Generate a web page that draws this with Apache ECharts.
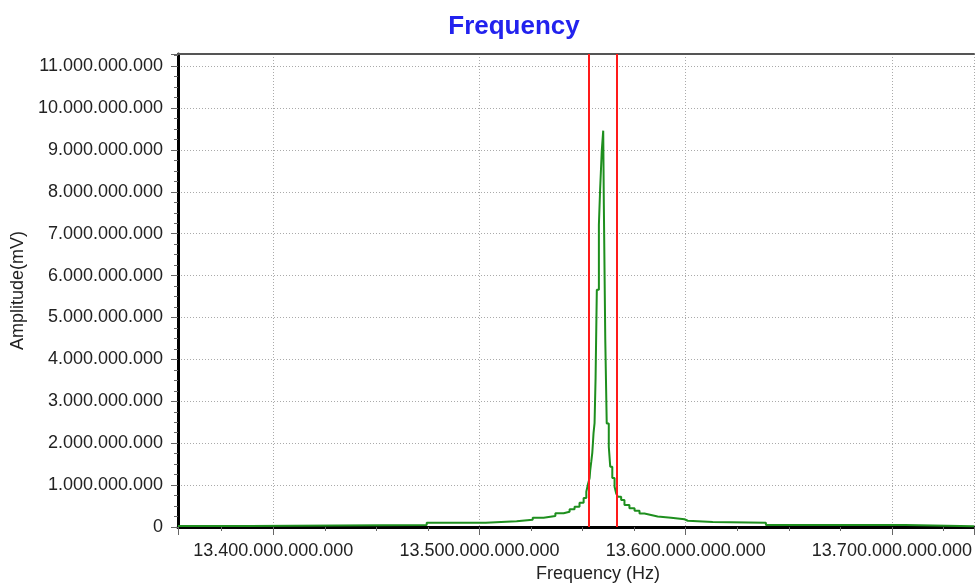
<!DOCTYPE html>
<html>
<head>
<meta charset="utf-8">
<script src="https://cdn.jsdelivr.net/npm/echarts@6/dist/echarts.min.js"></script>
<style>
    html, body { margin: 0; padding: 0; background: #fff; }
    #chart { width: 975px; height: 583px; }
</style>
</head>
<body>
<div id="chart"></div>
<script>

// 頻譜數據 (Hz / mV), 階梯線, 每點為平台起點

const frequencies = [
    13353.8e9, 13388.7e9, 13474.4e9, 13503.0e9, 13518.0e9, 13525.8e9, 13531.1e9, 13536.8e9,
    13540.8e9, 13543.7e9, 13546.1e9, 13548.5e9, 13550.5e9, 13551.8e9, 13552.5e9, 13553.4e9,
    13553.7e9, 13554.2e9, 13554.7e9, 13555.0e9, 13555.3e9, 13555.8e9, 13556.3e9, 13556.9e9,
    13557.9e9, 13558.5e9, 13559.3e9, 13560.0e9, 13560.3e9, 13561.0e9, 13561.7e9, 13562.7e9,
    13563.4e9, 13564.4e9, 13565.5e9, 13566.3e9, 13567.1e9, 13568.7e9, 13570.3e9, 13572.7e9,
    13575.2e9, 13577.6e9, 13580.0e9, 13583.2e9, 13586.4e9, 13592.9e9, 13599.4e9, 13601.0e9,
    13613.1e9, 13638.9e9, 13706.4e9, 13739.8e9
];

const amplitudes = [
    2.5e7, 5e7, 1.03e8, 1.36e8, 1.74e8, 2.22e8, 2.63e8, 3.27e8,
    3.65e8, 4.22e8, 4.84e8, 5.8e8, 6.92e8, 8.42e8, 1.0e9, 1.17e9,
    1.36e9, 1.56e9, 1.77e9, 2.0e9, 2.24e9, 2.48e9, 3.56e9, 5.66e9,
    7.21e9, 8.06e9, 8.98e9, 9.46e9, 7.7e9, 4.46e9, 2.47e9, 1.92e9,
    1.44e9, 1.17e9, 9.6e8, 8.0e8, 7.2e8, 6.44e8, 5.25e8, 4.46e8,
    3.89e8, 3.2e8, 2.86e8, 2.5e8, 2.22e8, 1.84e8, 1.5e8, 1.19e8,
    1.03e8, 4.8e7, 1.7e7, 1.7e7
];

// 紅色游標
const cursors = [13552.93e9, 13566.49e9];

const xRange = [13353.8e9, 13739.8e9];
const yRange = [0, 11.29e9];

const font = 'Liberation Sans, Arial, sans-serif';

function dotted(v) {
    return String(Math.round(v)).replace(/\B(?=(\d{3})+(?!\d))/g, '.');
}

const chart = echarts.init(document.querySelector('#chart'));

const option = {
    animation: false,
    title: [
        {
            text: 'Frequency',
            left: 514,
            top: 14,
            padding: 0,
            textAlign: 'center',
            textStyle: { color: '#2222ee', fontSize: 26, fontWeight: 'bold', fontFamily: font }
        },
        {
            text: 'Frequency (Hz)',
            left: 598,
            top: 565,
            padding: 0,
            textAlign: 'center',
            textStyle: { color: '#222', fontSize: 18, fontWeight: 'normal', fontFamily: font }
        }
    ],
    grid: {
        left: 178,
        right: 0,
        top: 54,
        bottom: 56,
    },
    xAxis: [
        {
            type: 'value',
            min: xRange[0],
            max: xRange[1],
            splitNumber: 4,
            axisLine: { show: true, lineStyle: { color: '#000', width: 3 } },
            axisTick: { show: true, length: 8, lineStyle: { color: '#666' } },
            minorTick: { show: true, splitNumber: 4, length: 4, lineStyle: { color: '#666' } },
            axisLabel: {
                showMinLabel: false,
                showMaxLabel: false,
                margin: 15,
                color: '#222',
                fontSize: 18,
                fontFamily: font,
                formatter: dotted
            },
            splitLine: { show: true, lineStyle: { color: '#aaa', type: [1, 2] } },
        },
        {
            type: 'value',
            position: 'top',
            min: xRange[0],
            max: xRange[1],
            axisLine: { show: true, lineStyle: { color: '#555', width: 2 } },
            axisTick: { show: false },
            axisLabel: { show: false },
            splitLine: { show: false },
        }
    ],
    yAxis: {
        type: 'value',
        min: yRange[0],
        max: yRange[1],
        interval: 1e9,
        name: 'Amplitude(mV)',
        nameLocation: 'middle',
        nameGap: 148,
        nameTextStyle: { color: '#222', fontSize: 18, fontFamily: font },
        axisLine: { show: true, lineStyle: { color: '#000', width: 3 } },
        axisTick: { show: true, length: 7, lineStyle: { color: '#666' } },
        minorTick: { show: true, splitNumber: 4, length: 4, lineStyle: { color: '#666' } },
        axisLabel: {
            showMaxLabel: false,
            margin: 15,
            color: '#222',
            fontSize: 18,
            fontFamily: font,
            formatter: dotted
        },
        splitLine: { show: true, lineStyle: { color: '#aaa', type: [1, 2] } },
    },
    series: [
        {
            type: 'line',
            step: 'end',
            showSymbol: false,
            data: frequencies.map((f, i) => [f, amplitudes[i]]),
            lineStyle: { color: '#1e8f1e', width: 2 },
            markLine: {
                silent: true,
                symbol: ['none', 'none'],
                label: { show: false },
                lineStyle: { color: '#ff1a1a', type: 'solid', width: 2 },
                data: cursors.map(c => ({ xAxis: c }))
            }
        }
    ]
};

chart.setOption(option);

</script>
</body>
</html>
